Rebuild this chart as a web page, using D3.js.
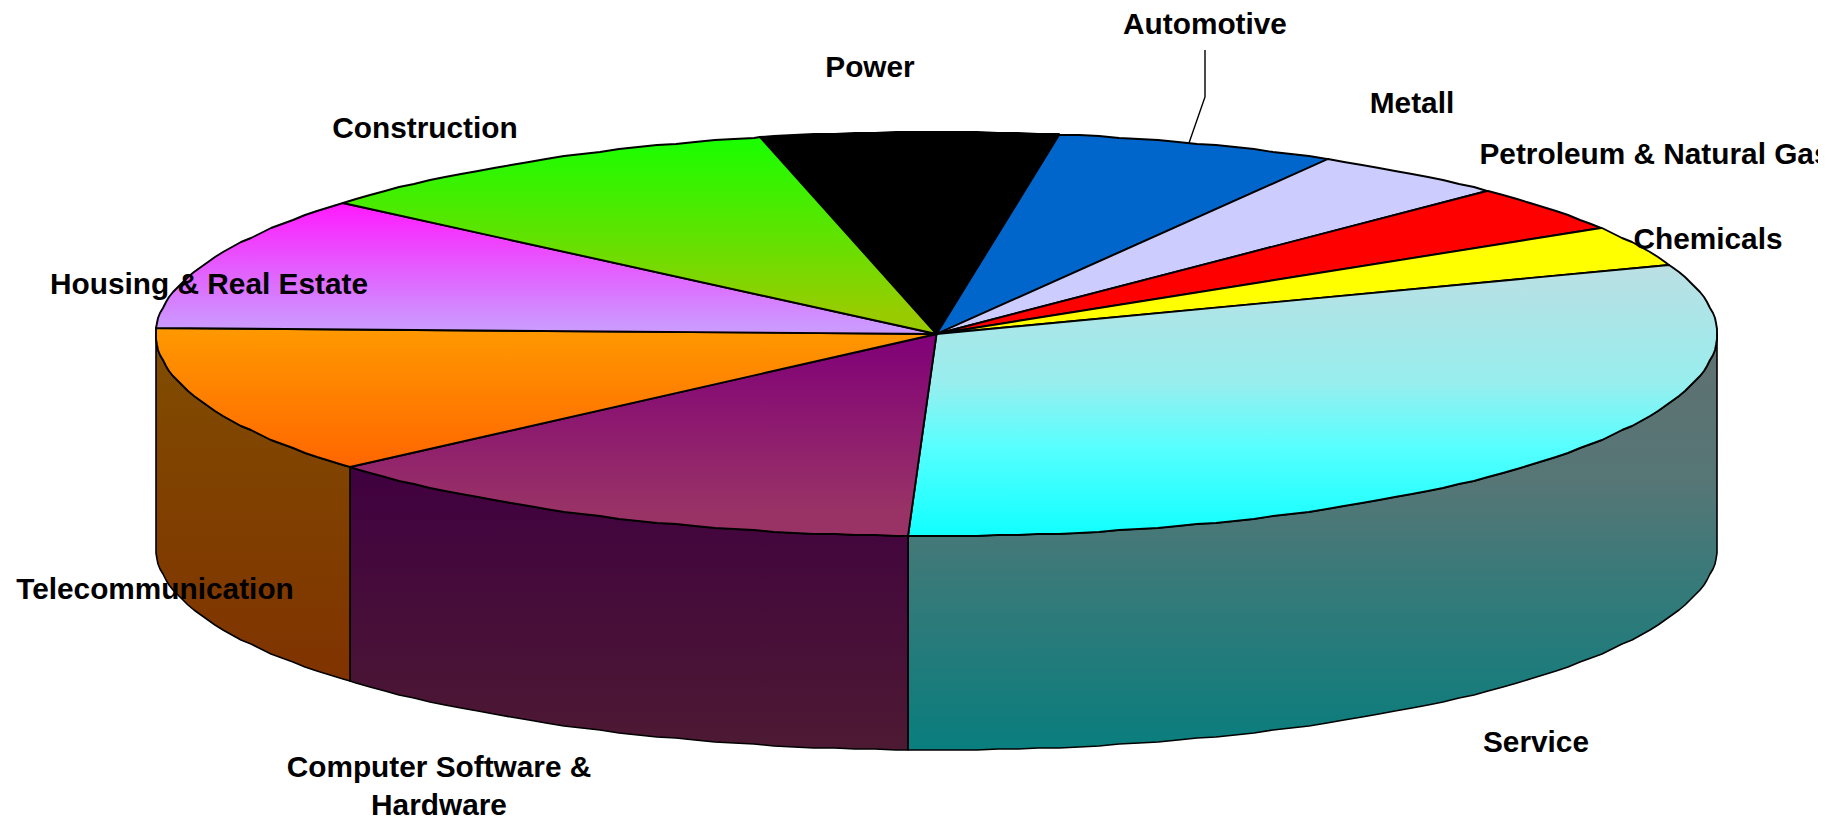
<!DOCTYPE html>
<html><head><meta charset="utf-8">
<script src="https://cdn.jsdelivr.net/npm/d3@7"></script>
<style>html,body{margin:0;padding:0;background:#fff;overflow:hidden}svg{display:block}
text{font-family:"Liberation Sans",Arial,sans-serif;font-weight:bold;font-size:29.8px;fill:#000;text-anchor:middle;dominant-baseline:central}</style>
</head><body><svg id="c" width="1843" height="821"></svg>
<script>
// Data (share of total, percent), clockwise starting with Power
const categories = ["Power","Automotive","Metall","Petroleum & Natural Gas","Chemicals","Service","Computer Software & Hardware","Telecommunication","Housing & Real Estate","Construction"];
const shares = [6.15,5.85,4.1,3.75,3.2,31.18,12.95,11.9,10.8,10.12];
const labelLines = [["Power"],["Automotive"],["Metall"],["Petroleum & Natural Gas"],["Chemicals"],["Service"],["Computer Software &","Hardware"],["Telecommunication"],["Housing & Real Estate"],["Construction"]];

// Styling: gradient stops [offset, colour] of each top face and each side wall
const topStops = [
 [[0,"#000"],[1,"#000"]],
 [[0,"#0066cc"],[1,"#0066cc"]],
 [[0,"#ccccff"],[1,"#ccccff"]],
 [[0,"#f00"],[1,"#f00"]],
 [[0,"#ff0"],[1,"#ff0"]],
 [[0,"#bbdfe3"],[0.435,"#98eeee"],[0.68,"#55ffff"],[1,"#10ffff"]],
 [[0,"#800078"],[0.88,"#993366"],[1,"#993366"]],
 [[0,"#ff9900"],[1,"#ff6600"]],
 [[0,"#ff19ff"],[0.94,"#cc99ff"],[1,"#cc99ff"]],
 [[0,"#18ff00"],[0.9,"#99cc00"],[1,"#99cc00"]]
];
const sideStops = {
 5:[[0,"#607070"],[0.36,"#567676"],[0.6,"#377a7a"],[0.92,"#127c7c"],[1,"#0a7f7f"]],
 6:[[0,"#400040"],[1,"#4d1a33"]],
 7:[[0,"#804d00"],[1,"#803300"]]
};
const labelX = [870,1205,1412,1655,1708,1536,439,155,209,425];
const labelY = [[66],[23],[102],[153],[238],[741],[766,804],[588],[283],[127]];

const cx=936.5, cy=334, rx=780.5, ry=202, depth=214, grid=1, step=1.5;
const deg=Math.PI/180;
const svg=d3.select("#c"), defs=svg.append("defs");
defs.append("clipPath").attr("id","pg").append("rect").attr("x",0).attr("y",0).attr("width",1818).attr("height",821);

const X=d3.scaleLinear().domain([-1,1]).range([cx-rx,cx+rx]);
const Y=d3.scaleLinear().domain([-1,1]).range([cy+ry,cy-ry]);
const pie=d3.pie().value(d=>d).sort(null).startAngle(-13.1*deg).endAngle((360-13.1)*deg);
const arcs=pie(shares);
const line=d3.line();
const snap=v=>Math.round(v/grid)*grid;
const rim=(a,dy=0)=>[snap(X(Math.sin(a))),snap(Y(Math.cos(a)))+dy];
// rim points lie on one shared angular grid, so top faces and walls share the same edge
const samples=(a0,a1,dy=0)=>{
  const s=step*deg, inner=d3.range(Math.floor(a0/s)+1,Math.ceil(a1/s)).map(k=>k*s);
  return [a0,...inner,a1].map(a=>rim(a,dy));
};
function grad(id,stops,y0,y1){const g=defs.append("linearGradient").attr("id",id).attr("gradientUnits","userSpaceOnUse").attr("x1",0).attr("x2",0).attr("y1",y0).attr("y2",y1);
 stops.forEach(s=>g.append("stop").attr("offset",s[0]).attr("stop-color",s[1]));}

// side walls
const sideG=svg.append("g");
arcs.forEach((d,i)=>{
  const a0=Math.max(d.startAngle,90*deg), a1=Math.min(d.endAngle,270*deg);
  if(a1<=a0) return;
  const topEdge=samples(a0,a1), bot=samples(a0,a1,depth).reverse();
  const ys=topEdge.concat(bot).map(p=>p[1]);
  grad("s"+i,sideStops[i],d3.min(ys),d3.max(ys));
  sideG.append("path").attr("d",line(topEdge.concat(bot))+"Z").attr("fill",`url(#s${i})`).attr("stroke","#000").attr("stroke-width",1.6).attr("stroke-linejoin","round");
});
// top slices
const topG=svg.append("g");
arcs.forEach((d,i)=>{
  const pts=[[cx,cy]].concat(samples(d.startAngle,d.endAngle));
  const ys=pts.map(p=>p[1]);
  grad("t"+i,topStops[i],d3.min(ys),d3.max(ys));
  topG.append("path").attr("d",line(pts)+"Z").attr("fill",`url(#t${i})`).attr("stroke","#000").attr("stroke-width",1.9).attr("stroke-linejoin","round");
});
// leader for Automotive: from below its label to the rim of its slice
const auto=arcs[1], rimPt=rim(auto.startAngle+(auto.endAngle-auto.startAngle)*0.468);
svg.append("path").attr("d",line([[labelX[1],labelY[1][0]+27],[labelX[1],labelY[1][0]+74],rimPt])).attr("fill","none").attr("stroke","#000").attr("stroke-width",1.4);
// labels
const lab=svg.append("g").attr("clip-path","url(#pg)");
categories.forEach((c,i)=>{
  labelLines[i].forEach((t,j)=>{
    lab.append("text").attr("x",labelX[i]).attr("y",labelY[i][j]).text(t);
  });
});
</script></body></html>
